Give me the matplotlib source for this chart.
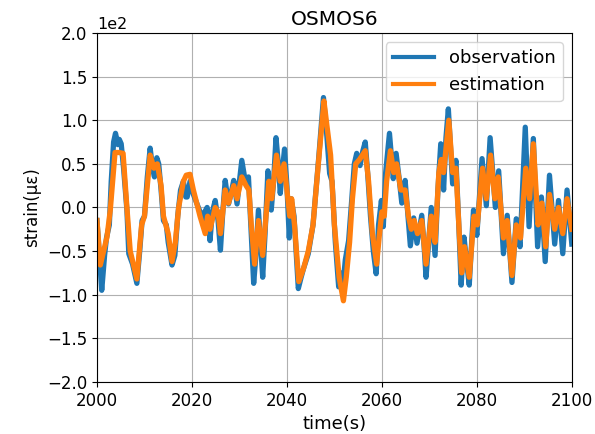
import matplotlib
matplotlib.use("Agg")
import matplotlib.pyplot as plt

obs_t = [2000.0, 2000.5, 2001.0, 2001.6, 2002.0, 2002.6, 2003.0, 2003.5, 2003.9, 2004.4, 2004.7, 2005.1,
         2005.6, 2006.3, 2006.7, 2007.5, 2008.4, 2009.0, 2009.5, 2010.0, 2010.6, 2011.2, 2011.7, 2012.1,
         2012.6, 2013.0, 2013.5, 2014.0, 2014.6, 2015.0, 2015.8, 2016.4, 2017.0, 2017.6, 2018.2, 2018.7,
         2019.0, 2019.6, 2020.3, 2021.0, 2021.7, 2022.2, 2022.7, 2023.2, 2023.8, 2024.3, 2024.9, 2025.5,
         2026.0, 2026.5, 2027.0, 2027.7, 2028.2, 2028.8, 2029.5, 2030.0, 2030.5, 2031.2, 2031.9, 2032.4,
         2033.0, 2033.4, 2034.0, 2034.9, 2035.4, 2036.0, 2036.7, 2037.2, 2037.7, 2038.2, 2038.6, 2039.0,
         2039.5, 2040.0, 2040.5, 2040.9, 2041.5, 2042.4, 2043.0, 2043.5, 2044.5, 2045.5, 2046.7, 2047.7,
         2048.3, 2049.0, 2049.5, 2050.2, 2050.9, 2051.3, 2051.8, 2052.3, 2053.0, 2053.6, 2054.2, 2054.7,
         2055.4, 2056.0, 2056.5, 2057.0, 2057.6, 2058.2, 2058.8, 2059.3, 2059.9, 2060.3, 2060.8, 2061.6,
         2062.4, 2063.0, 2063.6, 2064.2, 2064.9, 2065.5, 2066.0, 2066.7, 2067.4, 2068.4, 2068.9, 2069.3,
         2070.4, 2071.2, 2071.8, 2072.4, 2073.0, 2073.5, 2074.0, 2074.9, 2075.6, 2076.2, 2076.7, 2077.3,
         2077.8, 2078.4, 2079.3, 2080.0, 2081.1, 2082.0, 2082.8, 2083.9, 2084.6, 2085.6, 2086.4, 2087.4,
         2088.3, 2089.1, 2090.2, 2091.0, 2091.9, 2092.8, 2093.6, 2094.4, 2095.3, 2096.4, 2097.2, 2098.1,
         2099.0, 2100.0]
obs_v = [-15, -55, -95, -55, -35, -20, 30, 75, 85, 72, 78, 73,
         45, -3, -53, -65, -87, -50, -15, -10, 35, 68, 45, 35,
         57, 50, 20, -15, -20, -40, -66, -55, -10, 20, 30, 12,
         12, 30, 15, 5, -5, -15, -5, 0, -38, -5, 8, -15,
         -49, -5, 31, 4, 15, 31, 4, 30, 54, 31, 35, -20,
         -87, -60, -3, -80, -30, 42, -3, 30, 80, 50, 16, 40,
         67, 25, -35, 10, -10, -93, -80, -70, -53, -20, 57, 126,
         90, 39, 30, -40, -91, -75, -90, -60, -38, 5, 50, 62,
         48, 65, 75, 40, -10, -50, -76, -20, 8, -22, 40, 85,
         33, 62, 35, 5, 31, -10, -44, -12, -41, -9, -45, -80,
         0, -55, 20, 73, 20, 80, 113, 27, 54, -20, -89, -34,
         -60, -89, -3, -32, 56, 2, 80, 0, 42, -53, -9, -86,
         -13, -45, 92, -22, 79, -45, 12, -62, 37, -42, 8, -53,
         20, -42]

est_t = [2000.0, 2000.7, 2002.1, 2002.8, 2003.8, 2004.6, 2005.5, 2006.3, 2007.0, 2008.4, 2009.4, 2010.0,
         2011.2, 2012.0, 2012.7, 2013.5, 2014.0, 2015.0, 2015.8, 2016.5, 2017.2, 2018.2, 2018.8, 2019.6,
         2020.3, 2021.0, 2021.7, 2022.8, 2023.3, 2023.8, 2024.9, 2025.5, 2026.0, 2026.6, 2027.0, 2027.7,
         2028.8, 2029.5, 2030.5, 2031.4, 2032.0, 2032.5, 2033.2, 2034.0, 2034.9, 2035.6, 2036.2, 2036.8,
         2037.8, 2038.6, 2039.4, 2040.2, 2040.6, 2041.0, 2041.6, 2042.5, 2043.5, 2044.5, 2045.5, 2046.7,
         2047.8, 2048.4, 2049.2, 2050.0, 2051.0, 2051.9, 2052.5, 2053.2, 2053.8, 2054.5, 2055.3, 2056.5,
         2057.2, 2058.0, 2058.9, 2059.5, 2060.0, 2060.5, 2061.0, 2061.8, 2062.5, 2063.1, 2064.0, 2064.9,
         2065.6, 2066.2, 2066.8, 2067.5, 2068.4, 2069.3, 2070.4, 2071.2, 2072.0, 2072.5, 2073.0, 2074.1,
         2074.9, 2075.6, 2076.3, 2076.8, 2077.4, 2078.4, 2079.4, 2080.1, 2081.2, 2082.0, 2082.9, 2083.8,
         2084.5, 2085.6, 2086.4, 2087.4, 2088.3, 2089.2, 2090.3, 2091.1, 2091.9, 2092.9, 2093.7, 2094.5,
         2095.3, 2096.4, 2097.2, 2098.1, 2099.0, 2100.0]
est_v = [-15, -66, -34, -3, 63, 63, 62, 0, -50, -82, -20, -10,
         60, 45, 50, 25, -10, -30, -62, -40, 0, 30, 37, 38,
         20, 5, -10, -30, -10, -25, 0, -5, -30, 0, 20, 5,
         25, 10, 35, 25, 20, -20, -65, -15, -55, -10, 30, 10,
         60, 30, 50, 10, -10, 10, -20, -85, -70, -50, -20, 55,
         122, 95, 60, -20, -80, -107, -80, -40, 10, 50, 55, 65,
         30, -30, -65, -30, -5, -10, 30, 65, 40, 50, 20, 20,
         -10, -25, -15, -30, -15, -65, -10, -40, 40, 55, 40, 100,
         40, 45, -30, -75, -45, -80, -10, -20, 45, 10, 60, 10,
         35, -35, -15, -78, -20, -35, 45, 10, 73, -20, 5, -45,
         15, -25, 0, -30, 10, -25]

fig = plt.figure(figsize=(5.95, 4.34), dpi=100)
ax = fig.add_axes([0.163, 0.12, 0.798, 0.804])
ax.plot(obs_t, obs_v, color='#1f77b4', lw=3.8, label='observation')
ax.plot(est_t, est_v, color='#ff7f0e', lw=3.8, label='estimation')
ax.set_xlim(2000, 2100)
ax.set_ylim(-200, 200)
ax.set_yticks([-200, -150, -100, -50, 0, 50, 100, 150, 200])
ax.ticklabel_format(axis='y', style='sci', scilimits=(2, 2))
ax.grid(True)
ax.set_title('OSMOS6', fontsize=14.5)
ax.set_xlabel('time(s)', fontsize=13)
ax.set_ylabel('strain(με)', fontsize=12)
ax.tick_params(labelsize=12)
ax.yaxis.get_offset_text().set_fontsize(11.5)
leg = ax.legend(loc='upper right', fontsize=13, handlelength=2.3)
for h in leg.get_lines():
    h.set_linewidth(3)
fig.savefig('out.png', dpi=100)
